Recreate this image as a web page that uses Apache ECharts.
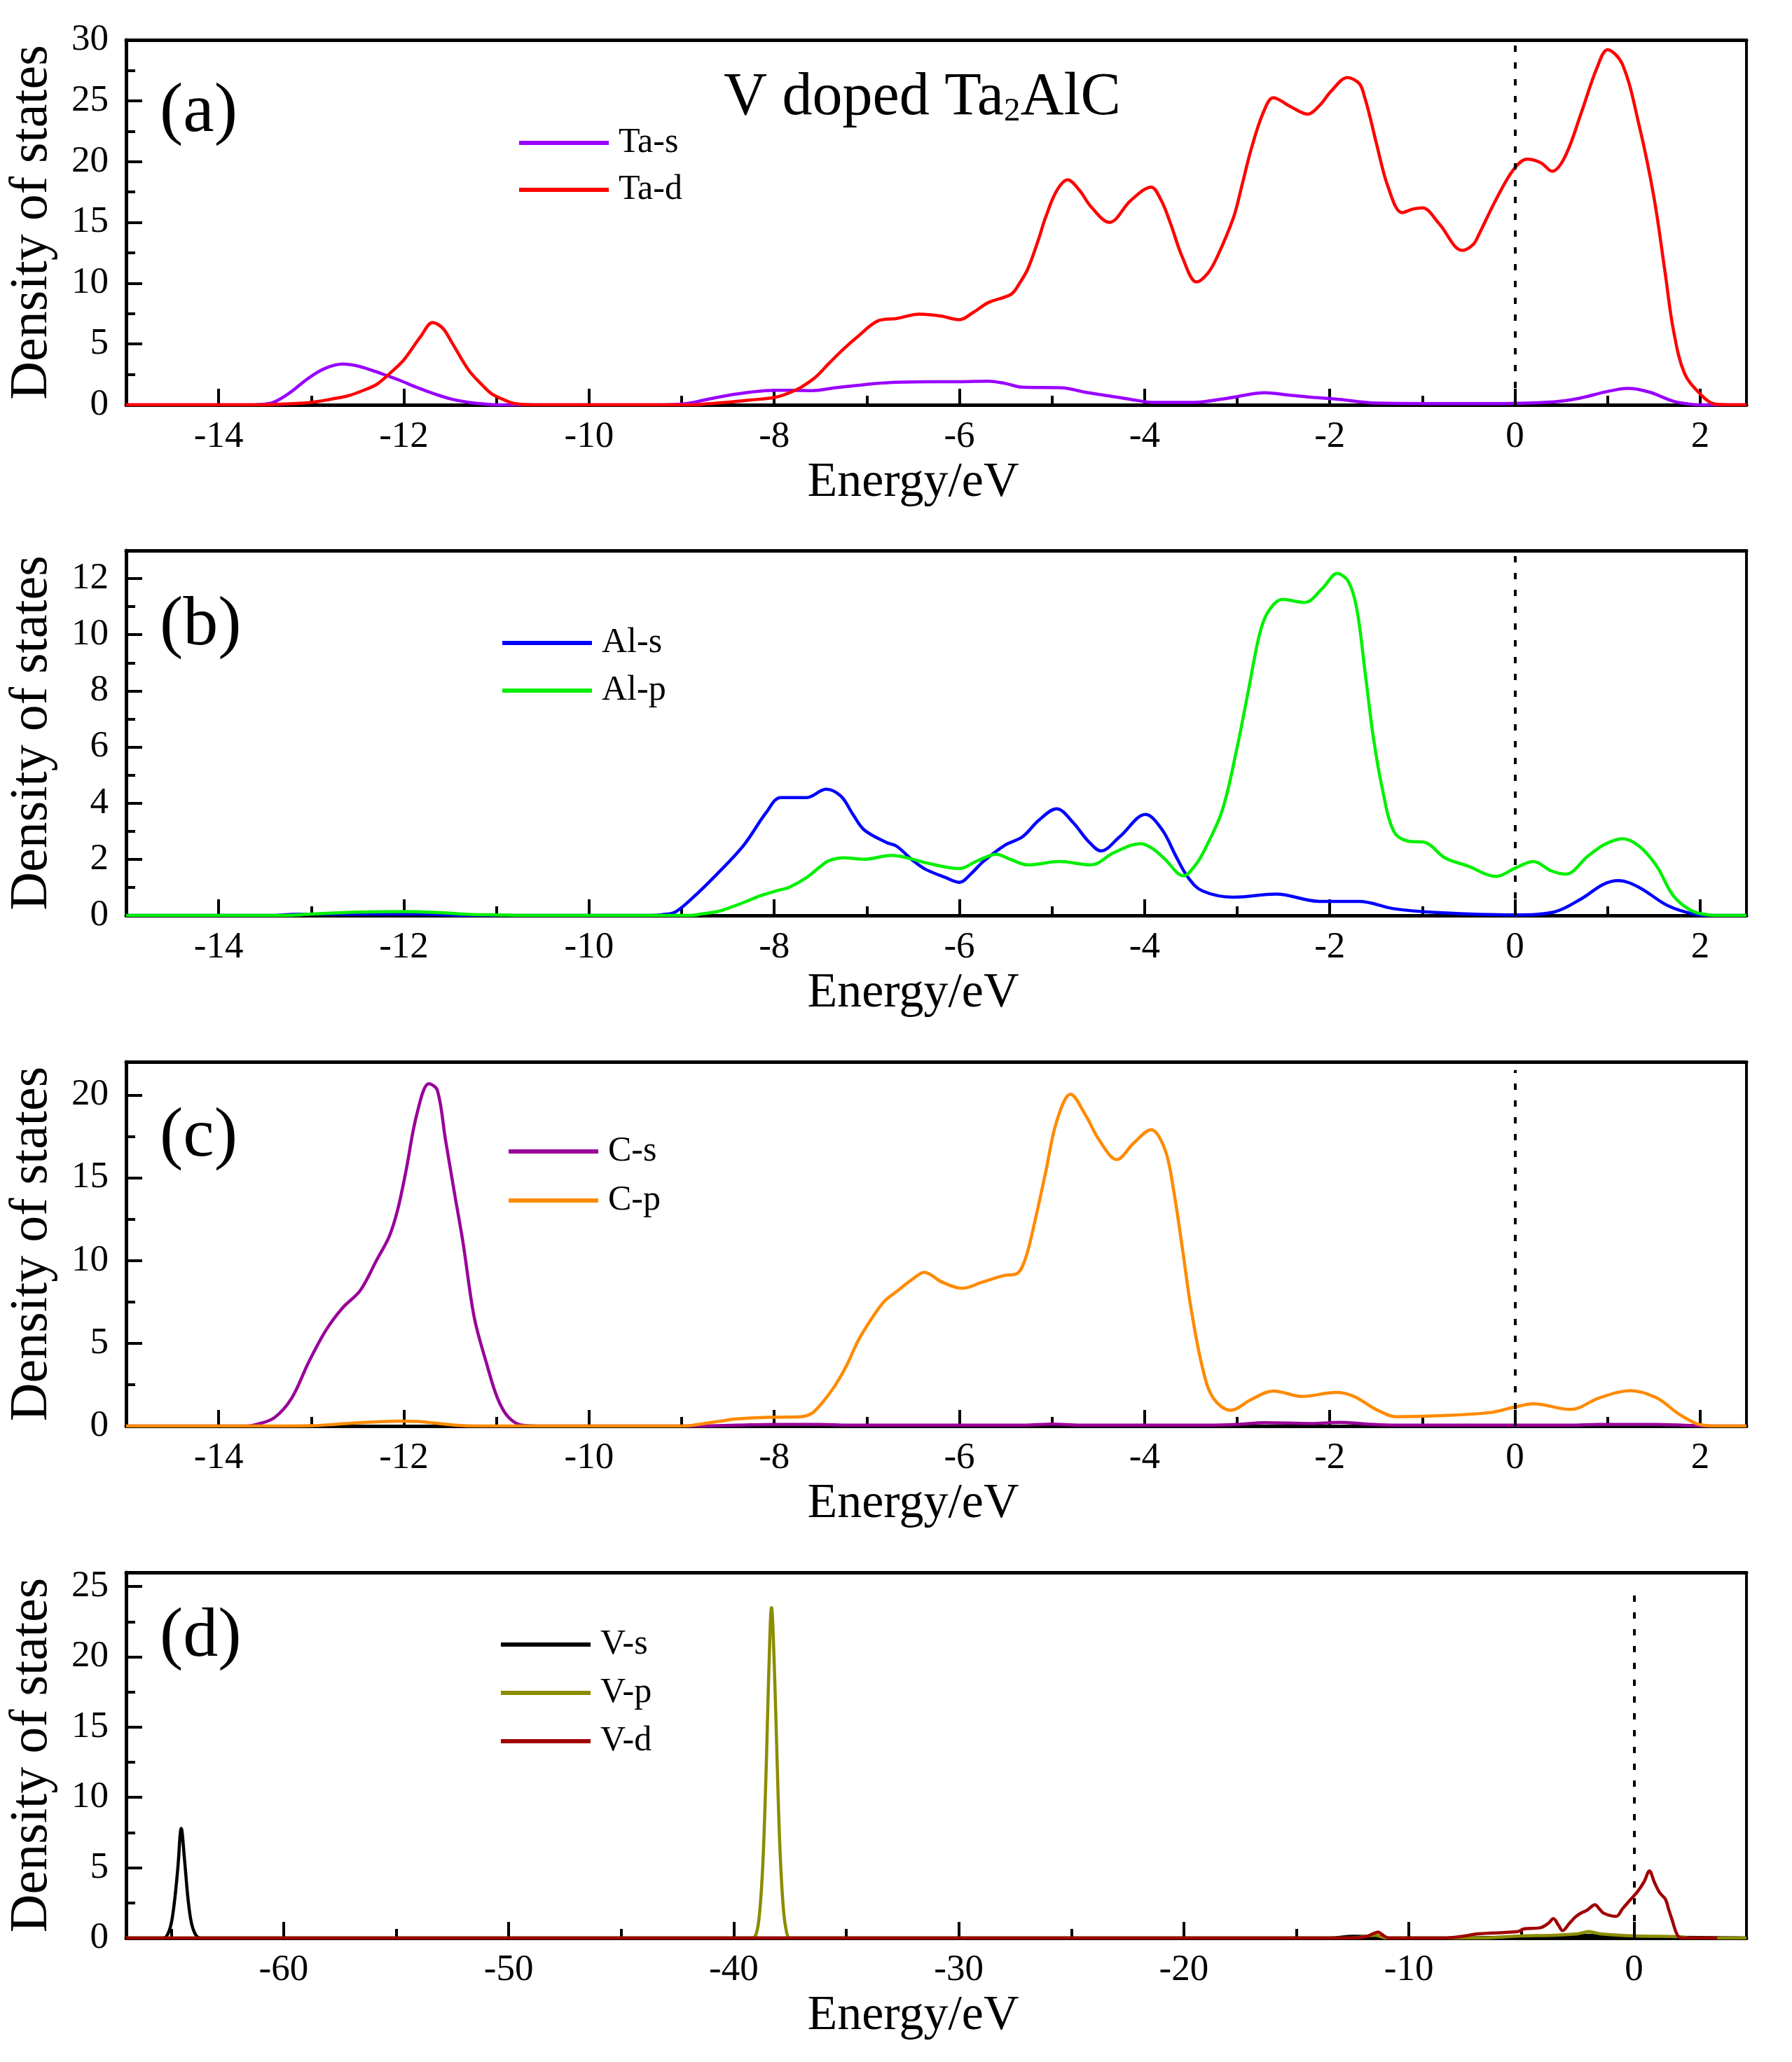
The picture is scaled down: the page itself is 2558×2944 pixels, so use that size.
<!DOCTYPE html>
<html><head><meta charset="utf-8">
<script src="https://cdn.jsdelivr.net/npm/echarts@6/dist/echarts.min.js"></script>
<style>html,body{margin:0;padding:0;background:#fff}#c{width:2558px;height:2944px}</style>
</head><body><div id="c"></div>
<script>
// ---- tick values ----
const xMajorTop = [-14,-12,-10,-8,-6,-4,-2,0,2];
const xMinorTop = [-13,-11,-9,-7,-5,-3,-1,1];
const xMajorV = [-60,-50,-40,-30,-20,-10,0];
const xMinorV = [-65,-55,-45,-35,-25,-15,-5];

// ---- (a) Ta ----
const taS = [[-15,0],[-13.7,0],[-13.45,0.12],[-13.25,0.9],[-13.03,2.2],[-12.85,3.0],[-12.66,3.35],[-12.5,3.2],[-12.35,2.85],[-12.2,2.45],[-12.04,2.0],[-11.85,1.4],[-11.67,0.9],[-11.5,0.5],[-11.3,0.2],[-11.1,0.05],[-10.9,0],[-9.2,0],[-8.95,0.1],[-8.75,0.4],[-8.52,0.75],[-8.25,1.05],[-8.0,1.2],[-7.8,1.2],[-7.59,1.17],[-7.35,1.4],[-7.1,1.6],[-6.9,1.75],[-6.68,1.85],[-6.3,1.9],[-6.0,1.9],[-5.69,1.95],[-5.5,1.75],[-5.32,1.45],[-4.89,1.4],[-4.65,1.05],[-4.4,0.75],[-4.15,0.45],[-3.9,0.2],[-3.47,0.2],[-3.1,0.55],[-2.7,1.0],[-2.45,0.8],[-2.24,0.65],[-1.9,0.45],[-1.5,0.15],[-0.33,0.1],[0.42,0.25],[0.7,0.55],[1.0,1.1],[1.22,1.35],[1.45,1.05],[1.71,0.3],[1.9,0.05],[2.08,0],[2.5,0]];
const taD = [[-15,0],[-13.6,0],[-13.2,0.1],[-13.0,0.2],[-12.8,0.45],[-12.6,0.75],[-12.45,1.15],[-12.29,1.7],[-12.15,2.6],[-12.0,3.7],[-11.82,5.6],[-11.69,6.76],[-11.58,6.3],[-11.48,5.1],[-11.3,2.85],[-11.15,1.6],[-11.05,0.9],[-10.9,0.35],[-10.8,0.1],[-10.6,0],[-8.9,0],[-8.7,0.1],[-8.52,0.2],[-8.25,0.4],[-8.0,0.6],[-7.85,0.95],[-7.71,1.45],[-7.55,2.3],[-7.41,3.4],[-7.25,4.6],[-7.1,5.6],[-6.88,6.9],[-6.68,7.1],[-6.43,7.46],[-6.2,7.3],[-6.0,7.0],[-5.85,7.6],[-5.69,8.4],[-5.44,9.1],[-5.35,10.0],[-5.26,11.2],[-5.15,13.5],[-5.07,15.4],[-4.95,17.6],[-4.83,18.5],[-4.7,17.6],[-4.58,16.3],[-4.38,15.0],[-4.15,16.8],[-3.93,17.9],[-3.82,16.8],[-3.72,14.9],[-3.59,12.1],[-3.44,10.1],[-3.32,10.8],[-3.22,12.1],[-3.04,15.4],[-2.95,18.0],[-2.85,21.0],[-2.72,24.0],[-2.61,25.25],[-2.42,24.5],[-2.24,23.9],[-2.1,24.7],[-1.99,25.75],[-1.81,26.9],[-1.68,26.4],[-1.62,25.2],[-1.56,23.5],[-1.5,21.6],[-1.37,17.9],[-1.22,15.8],[-1.1,16.1],[-1.0,16.2],[-0.82,14.9],[-0.57,12.7],[-0.45,13.2],[-0.39,14.0],[-0.21,16.8],[-0.02,19.3],[0.13,20.2],[0.28,19.9],[0.4,19.2],[0.54,20.4],[0.72,24.1],[0.88,27.6],[1.0,29.2],[1.16,28.0],[1.34,23.0],[1.5,17.1],[1.62,10.95],[1.71,6.2],[1.83,2.6],[2.0,0.9],[2.14,0.1],[2.3,0],[2.5,0]];

// ---- (b) Al ----
const alS = [[-15,0],[-13.4,0],[-13.2,0.04],[-12.5,0.05],[-11.8,0.05],[-11.5,0.02],[-11.2,0],[-9.35,0],[-9.2,0.03],[-9.07,0.12],[-8.89,0.6],[-8.64,1.4],[-8.33,2.5],[-8.09,3.65],[-7.93,4.2],[-7.65,4.2],[-7.44,4.5],[-7.28,4.25],[-7.15,3.6],[-7.03,3.05],[-6.79,2.6],[-6.68,2.47],[-6.5,1.95],[-6.37,1.65],[-6.15,1.35],[-6.0,1.18],[-5.87,1.5],[-5.75,1.9],[-5.51,2.5],[-5.32,2.8],[-5.14,3.4],[-4.95,3.8],[-4.77,3.3],[-4.61,2.65],[-4.47,2.3],[-4.27,2.8],[-3.99,3.6],[-3.81,3.05],[-3.66,2.1],[-3.53,1.35],[-3.38,0.88],[-3.04,0.65],[-2.58,0.76],[-2.11,0.5],[-1.68,0.5],[-1.31,0.24],[-0.82,0.1],[0,0.02],[0.42,0.12],[0.72,0.6],[0.95,1.1],[1.12,1.24],[1.34,1.0],[1.65,0.35],[1.96,0.03],[2.1,0],[2.5,0]];
const alP = [[-15,0],[-13.3,0],[-13.0,0.05],[-12.5,0.12],[-12.0,0.14],[-11.6,0.1],[-11.3,0.04],[-11.0,0.02],[-10.7,0],[-8.9,0],[-8.77,0.06],[-8.6,0.15],[-8.46,0.3],[-8.3,0.5],[-8.15,0.7],[-7.95,0.9],[-7.84,1.0],[-7.65,1.35],[-7.5,1.75],[-7.41,1.95],[-7.25,2.05],[-7.03,2.0],[-6.73,2.14],[-6.5,2.0],[-6.37,1.88],[-6.0,1.67],[-5.81,1.94],[-5.6,2.18],[-5.45,2.0],[-5.26,1.8],[-4.92,1.92],[-4.58,1.8],[-4.33,2.24],[-4.04,2.56],[-3.9,2.35],[-3.78,2.0],[-3.58,1.41],[-3.45,1.8],[-3.35,2.35],[-3.16,3.76],[-3.0,6.0],[-2.88,8.0],[-2.76,10.0],[-2.67,10.8],[-2.51,11.26],[-2.27,11.15],[-2.08,11.65],[-1.92,12.18],[-1.8,11.9],[-1.71,10.95],[-1.62,8.7],[-1.53,6.35],[-1.43,4.47],[-1.31,3.0],[-1.16,2.65],[-0.97,2.6],[-0.76,2.06],[-0.51,1.76],[-0.2,1.39],[0.01,1.7],[0.2,1.92],[0.39,1.59],[0.55,1.47],[0.79,2.12],[0.97,2.53],[1.16,2.73],[1.34,2.47],[1.53,1.76],[1.71,0.7],[1.9,0.18],[2.08,0.02],[2.2,0],[2.5,0]];

// ---- (c) C ----
const cS = [[-15,0],[-13.7,0],[-13.59,0.1],[-13.4,0.5],[-13.21,1.7],[-13.03,3.84],[-12.84,5.8],[-12.66,7.15],[-12.47,8.2],[-12.29,10.07],[-12.16,11.43],[-12.07,13.0],[-11.98,15.33],[-11.86,18.83],[-11.73,20.68],[-11.64,20.3],[-11.55,17.27],[-11.45,13.96],[-11.36,11.04],[-11.24,6.56],[-11.11,3.84],[-10.99,1.7],[-10.87,0.53],[-10.71,0.04],[-10.5,0],[-8.8,0],[-8.4,0.05],[-8.0,0.1],[-7.5,0.1],[-7.2,0.05],[-5.3,0.05],[-5.0,0.12],[-4.7,0.05],[-3.3,0.05],[-3.0,0.1],[-2.7,0.2],[-2.2,0.15],[-1.9,0.22],[-1.6,0.12],[-1.3,0.05],[0.6,0.05],[0.9,0.1],[1.5,0.1],[1.9,0.03],[2.1,0],[2.5,0]];
const cP = [[-15,0],[-13.2,0],[-13.0,0.02],[-12.8,0.08],[-12.66,0.14],[-12.3,0.25],[-12.04,0.3],[-11.85,0.27],[-11.67,0.18],[-11.42,0.04],[-11.2,0],[-9.0,0],[-8.77,0.14],[-8.6,0.28],[-8.4,0.43],[-8.03,0.53],[-7.71,0.56],[-7.6,0.75],[-7.53,1.1],[-7.44,1.7],[-7.34,2.47],[-7.22,3.64],[-7.09,5.2],[-6.94,6.56],[-6.81,7.54],[-6.68,8.12],[-6.5,8.9],[-6.38,9.29],[-6.19,8.7],[-5.97,8.32],[-5.75,8.7],[-5.51,9.1],[-5.38,9.2],[-5.29,10.07],[-5.2,12.0],[-5.07,15.3],[-4.95,18.4],[-4.8,20.04],[-4.64,18.8],[-4.49,17.27],[-4.3,16.1],[-4.12,17.08],[-3.93,17.9],[-3.78,16.7],[-3.69,14.35],[-3.59,10.65],[-3.5,7.15],[-3.38,3.64],[-3.26,1.7],[-3.07,0.95],[-2.85,1.6],[-2.61,2.12],[-2.3,1.79],[-1.93,2.03],[-1.74,1.79],[-1.5,1.0],[-1.28,0.56],[-0.82,0.62],[-0.26,0.82],[0.0,1.15],[0.2,1.34],[0.6,1.0],[0.91,1.7],[1.25,2.14],[1.53,1.7],[1.77,0.72],[1.96,0.14],[2.08,0.02],[2.2,0],[2.5,0]];

// ---- (d) V ----
const vS = [[-67,0],[-65.4,0],[-65.2,0.13],[-65.0,1.0],[-64.85,2.6],[-64.7,5.0],[-64.55,7.8],[-64.4,5.5],[-64.25,2.8],[-64.1,1.1],[-63.9,0.2],[-63.7,0],[-13.5,0],[-12.5,0.12],[-11.5,0.1],[-11,0],[-8,0],[-6,0.05],[-4,0.08],[-2.5,0.15],[-2,0.2],[-1.5,0.12],[0,0.05],[2,0.05],[5,0]];
const vP = [[-67,0],[-39.2,0],[-39.0,0.3],[-38.85,1.8],[-38.7,5.5],[-38.55,12.5],[-38.45,18.5],[-38.32,23.5],[-38.2,19.5],[-38.08,13],[-37.95,6.5],[-37.8,2.2],[-37.65,0.4],[-37.5,0],[-12.5,0],[-11.5,0.2],[-11,0],[-7,0],[-5,0.15],[-3.5,0.2],[-2.5,0.3],[-2.0,0.46],[-1.5,0.3],[0,0.15],[2,0.1],[2.5,0],[5,0]];
const vD = [[-67,0],[-12.5,0],[-11.9,0.1],[-11.6,0.3],[-11.37,0.42],[-11.15,0.2],[-10.9,0],[-8.5,0],[-7.5,0.15],[-6.93,0.3],[-5.15,0.46],[-4.9,0.65],[-4.14,0.74],[-3.8,1.05],[-3.58,1.38],[-3.35,0.9],[-3.17,0.53],[-2.87,1.04],[-2.6,1.5],[-2.36,1.77],[-2.1,1.96],[-1.73,2.37],[-1.55,2.1],[-1.35,1.77],[-0.79,1.54],[-0.5,2.1],[-0.2,2.65],[0.18,3.34],[0.45,4.0],[0.69,4.77],[0.9,4.0],[1.14,3.23],[1.4,2.76],[1.55,2.0],[1.7,1.27],[1.85,0.5],[2.0,0.07],[2.2,0],[3.7,0]];

// ---- panel definitions ----
const panels = [
  {label:'(a)', xMin:-15, xMax:2.5, yMax:30, yInt:5, major:xMajorTop, minor:xMinorTop, dotTop:30,
   series:[{name:'Ta-s', data:taS, color:'#9900FF'},{name:'Ta-d', data:taD, color:'#FF0000'}]},
  {label:'(b)', xMin:-15, xMax:2.5, yMax:13, yInt:2, major:xMajorTop, minor:xMinorTop, dotTop:13,
   series:[{name:'Al-s', data:alS, color:'#0000FF'},{name:'Al-p', data:alP, color:'#00F000'}]},
  {label:'(c)', xMin:-15, xMax:2.5, yMax:22, yInt:5, major:xMajorTop, minor:xMinorTop, dotTop:21.5,
   series:[{name:'C-s', data:cS, color:'#990099'},{name:'C-p', data:cP, color:'#FF8A00'}]},
  {label:'(d)', xMin:-67, xMax:5, yMax:26, yInt:5, major:xMajorV, minor:xMinorV, dotTop:25.1,
   series:[{name:'V-s', data:vS, color:'#000000'},{name:'V-p', data:vP, color:'#8C8C00'},{name:'V-d', data:vD, color:'#A00000'}]}
];

// ---- layout (pixels) ----
const layout = [
  {top:57,   height:521, legendLeft:741, legendTop:179, legendGap:17, labelTop:111},
  {top:786,  height:521, legendLeft:717, legendTop:893, legendGap:18, labelTop:844},
  {top:1516, height:520, legendLeft:726, legendTop:1619, legendGap:20, labelTop:1574},
  {top:2245, height:522, legendLeft:715, legendTop:2323, legendGap:19, labelTop:2288}
];
const FONT = "'Liberation Serif','Times New Roman',serif";
const GL = 180, GW = 2313;

const grid = [], xAxis = [], yAxis = [], series = [], legend = [];
const title = [{
  text: '{a|V doped Ta}{s|2}{a|AlC}', left: 1033, top: 83, padding: 0,
  textStyle: {fontWeight: 'normal', rich: {
    a: {fontFamily: FONT, fontSize: 86, fontWeight: 'normal', lineHeight: 100, verticalAlign: 'bottom', color: '#000'},
    s: {fontFamily: FONT, fontSize: 47, fontWeight: 'normal', lineHeight: 66, verticalAlign: 'bottom', color: '#000'}
  }}
}];

panels.forEach((p, i) => {
  const L = layout[i];
  grid.push({left: GL, top: L.top, width: GW, height: L.height, containLabel: false});
  grid.push({left: GL, top: L.top, width: GW, height: L.height, containLabel: false});
  const g = i * 2;
  xAxis.push({
    gridIndex: g, type: 'value', position: 'bottom', min: p.xMin, max: p.xMax,
    axisLine: {show: true, onZero: false, lineStyle: {color: '#000', width: 5}},
    axisTick: {show: true, inside: true, length: 23, lineStyle: {color: '#000', width: 4}, customValues: p.major},
    axisLabel: {show: true, customValues: p.major, margin: 20, fontFamily: FONT, fontSize: 53, color: '#000'},
    splitLine: {show: false},
    name: 'Energy/eV', nameLocation: 'middle', nameGap: 77,
    nameTextStyle: {fontFamily: FONT, fontSize: 70, color: '#000', padding: [0, 66, 0, 0]}
  });
  xAxis.push({
    gridIndex: g, type: 'value', position: 'top', min: p.xMin, max: p.xMax,
    axisLine: {show: true, onZero: false, lineStyle: {color: '#000', width: 5}},
    axisTick: {show: false}, axisLabel: {show: false}, splitLine: {show: false}
  });
  xAxis.push({
    gridIndex: g + 1, type: 'value', position: 'bottom', min: p.xMin, max: p.xMax,
    axisLine: {show: false, onZero: false},
    axisTick: {show: true, inside: true, length: 13, lineStyle: {color: '#000', width: 4}, customValues: p.minor},
    axisLabel: {show: false}, splitLine: {show: false}
  });
  yAxis.push({
    gridIndex: g, type: 'value', position: 'left', min: 0, max: p.yMax, interval: p.yInt,
    axisLine: {show: true, onZero: false, lineStyle: {color: '#000', width: 5}},
    axisTick: {show: true, inside: true, length: 23, lineStyle: {color: '#000', width: 4}},
    minorTick: {show: true, splitNumber: 2, length: 13, lineStyle: {color: '#000', width: 4}},
    axisLabel: {show: true, margin: 25, fontFamily: FONT, fontSize: 53, color: '#000', showMaxLabel: p.yMax % p.yInt === 0},
    splitLine: {show: false},
    name: 'Density of states', nameLocation: 'middle', nameGap: 96, nameRotate: 90,
    nameTextStyle: {fontFamily: FONT, fontSize: 76, color: '#000'}
  });
  yAxis.push({
    gridIndex: g, type: 'value', position: 'right', min: 0, max: p.yMax,
    axisLine: {show: true, onZero: false, lineStyle: {color: '#000', width: 4}},
    axisTick: {show: false}, axisLabel: {show: false}, splitLine: {show: false}
  });
  yAxis.push({gridIndex: g + 1, type: 'value', min: 0, max: 1, show: false});

  const xi = i * 3, yi = i * 3;
  p.series.forEach((s, k) => {
    const ser = {
      type: 'line', name: s.name, data: s.data, xAxisIndex: xi, yAxisIndex: yi,
      showSymbol: false, symbol: 'none', smooth: 0.35, color: s.color,
      lineStyle: {color: s.color, width: 4.5}, z: 3 + k
    };
    if (k === 0) {
      ser.markLine = {
        silent: true, symbol: 'none', label: {show: false}, animation: false,
        lineStyle: {color: '#000', type: [9, 15], width: 4},
        data: [[{coord: [0, 0]}, {coord: [0, p.dotTop]}]]
      };
    }
    series.push(ser);
  });
  legend.push({
    data: p.series.map(s => s.name), orient: 'vertical', left: L.legendLeft, top: L.legendTop,
    padding: 0, itemGap: L.legendGap, itemWidth: 128, itemHeight: 6, icon: 'rect',
    textStyle: {fontFamily: FONT, fontSize: 50, lineHeight: 50, color: '#000', padding: [0, 0, 0, 9]},
    selectedMode: false
  });
  title.push({
    text: p.label, left: 228, top: L.labelTop, padding: 0,
    textStyle: {fontFamily: FONT, fontSize: 100, lineHeight: 100, fontWeight: 'normal', color: '#000'}
  });
});

const chart = echarts.init(document.getElementById('c'), null, {renderer: 'canvas'});
chart.setOption({
  animation: false, backgroundColor: '#fff',
  title, grid, xAxis, yAxis, series, legend
});
</script></body></html>
